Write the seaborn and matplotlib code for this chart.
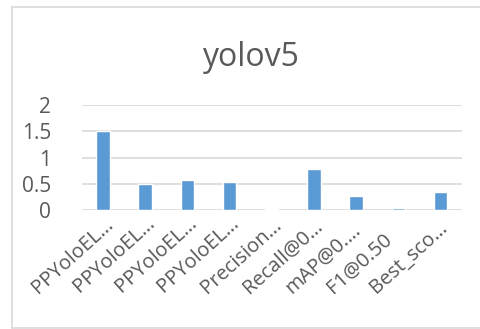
import matplotlib
matplotlib.use("Agg")
import matplotlib.pyplot as plt
from matplotlib.lines import Line2D
from matplotlib.transforms import ScaledTranslation
import seaborn as sns
import pandas as pd

categories = ["PPYoloEL…", "PPYoloEL… ", "PPYoloEL…  ", "PPYoloEL…   ",
              "Precision…", "Recall@0…", "mAP@0.…", "F1@0.50", "Best_sco…"]
values = [1.5, 0.49, 0.57, 0.54, 0.012, 0.79, 0.27, 0.035, 0.35]
y_ticks = [0, 0.5, 1, 1.5, 2]
y_tick_labels = ["0", "0.5", "1", "1.5", "2"]
title = "yolov5"

sns.set_theme(style="white")
plt.rcParams["font.family"] = ["Open Sans", "DejaVu Sans"]

text_color = "#595959"
grid_color = "#D9D9D9"
bar_color = "#5B9BD5"

W, H = 480, 329
fig = plt.figure(figsize=(W / 100, H / 100), dpi=100)
fig.patch.set_facecolor("white")

ax = fig.add_axes([81.7 / W, 1 - 210 / H, (461.7 - 81.7) / W, (210 - 105) / H])
ax.set_axisbelow(True)
df = pd.DataFrame({"label": categories, "value": values})
sns.barplot(data=df, x="label", y="value", color=bar_color, width=0.32,
            saturation=1, ax=ax, zorder=3)

ax.set_ylim(0, 2)
ax.set_xlim(-0.5, len(categories) - 0.5)
ax.set_yticks(y_ticks)
ax.set_yticklabels(y_tick_labels, fontsize=15, color=text_color)
ax.yaxis.grid(True, color=grid_color, linewidth=1.2, zorder=0)
ax.tick_params(axis="both", length=0)
ax.tick_params(axis="y", pad=22)
ax.tick_params(axis="x", pad=0)
ax.set_xlabel("")
ax.set_ylabel("")
for s in ax.spines.values():
    s.set_visible(False)

# slanted category labels, anchored at the start of each label
ax.set_xticks(range(len(categories)))
ax.set_xticklabels(categories, fontsize=14.5, color=text_color, rotation=42,
                   ha="left", va="baseline", rotation_mode="anchor")
offset = ScaledTranslation(-65 / 100, -84 / 100, fig.dpi_scale_trans)
for lab in ax.get_xticklabels():
    lab.set_transform(lab.get_transform() + offset)

fig.text(250 / W, 1 - 57 / H, title, fontsize=23, color=text_color,
         ha="center", va="center")

# chart area outline (left, top, bottom edges)
def px_line(xs, ys):
    fig.add_artist(Line2D([x / W for x in xs], [1 - y / H for y in ys],
                          transform=fig.transFigure, color=grid_color,
                          linewidth=1.2))

px_line([12, 12], [6.5, 328])
px_line([12, 480], [6.5, 6.5])
px_line([12, 480], [327.5, 327.5])

fig.savefig("out.png", dpi=100)
